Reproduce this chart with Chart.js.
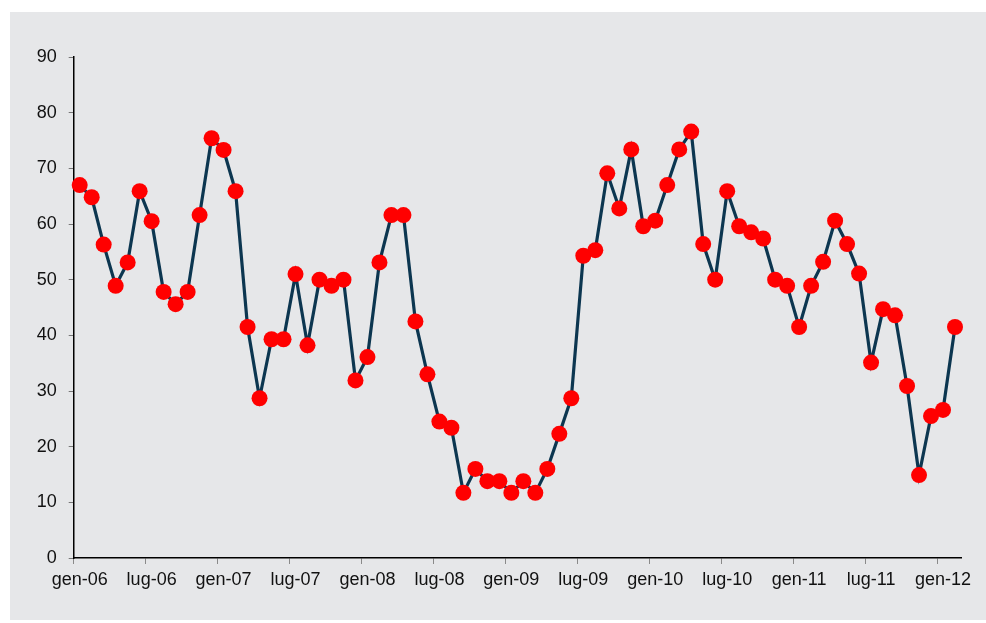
<!DOCTYPE html>
<html>
<head>
<meta charset="utf-8">
<script src="https://cdn.jsdelivr.net/npm/chart.js@4"></script>
<style>
  html, body { margin: 0; padding: 0; background: #ffffff; }
  #panel { position: absolute; left: 10px; top: 12px; width: 976px; height: 608px; background: #e6e7e9; }
  canvas { display: block; }
</style>
</head>
<body>
<div id="panel"><canvas id="chart" width="976" height="608"></canvas></div>
<script>
// mesi e anni per le etichette
const months = ['gen','feb','mar','apr','mag','giu','lug','ago','set','ott','nov','dic'];
const years = ['06','07','08','09','10','11','12'];

// valori mensili, gen-06 .. feb-12
const values = [
  67.0, 64.8, 56.3, 48.9, 53.1, 65.9, 60.5, 47.8, 45.6, 47.8, 61.6, 75.4,
  73.3, 65.9, 41.5, 28.7, 39.3, 39.3, 51.0, 38.2, 50.0, 48.9, 50.0, 31.9,
  36.1, 53.1, 61.6, 61.6, 42.5, 33.0, 24.5, 23.4, 11.7, 16.0, 13.8, 13.8,
  11.7, 13.8, 11.7, 16.0, 22.3, 28.7, 54.3, 55.3, 69.1, 62.8, 73.4, 59.6,
  60.6, 67.0, 73.4, 76.6, 56.4, 50.0, 65.9, 59.6, 58.5, 57.4, 50.0, 48.9,
  41.5, 48.9, 53.2, 60.6, 56.4, 51.1, 35.1, 44.7, 43.6, 30.9, 14.9, 25.5,
  26.6, 41.5
];

const yTicks = [0, 10, 20, 30, 40, 50, 60, 70, 80, 90];

const labels = [];
years.forEach(y => months.forEach(m => labels.push(m + '-' + y)));
labels.length = values.length;

const font = { family: '"Liberation Sans", Arial, sans-serif', size: 18 };

new Chart(document.getElementById('chart'), {
  type: 'line',
  data: {
    labels: labels,
    datasets: [{
      data: values,
      borderColor: '#0c3650',
      borderWidth: 3.2,
      pointBackgroundColor: '#ff0000',
      pointBorderWidth: 0,
      pointRadius: 8,
      pointHoverRadius: 8,
      tension: 0,
      clip: false
    }]
  },
  options: {
    responsive: false,
    animation: false,
    layout: { padding: { top: 45, right: 25, bottom: 22, left: 0 } },
    plugins: { legend: { display: false }, tooltip: { enabled: false } },
    scales: {
      x: {
        offset: true,
        grid: {
          offset: true,
          drawOnChartArea: false,
          tickLength: 6,
          color: ctx => (ctx.index % 6 === 0 ? '#8a8a8a' : 'rgba(0,0,0,0)')
        },
        border: { color: '#000000', width: 1.5 },
        ticks: {
          autoSkip: false,
          maxRotation: 0,
          padding: 5,
          color: '#111111',
          font: font,
          callback: (v, i) => (i % 6 === 0 ? labels[i] : '')
        },
        afterFit: s => { s.height = 40; }
      },
      y: {
        min: 0,
        max: 90,
        afterBuildTicks: s => { s.ticks = yTicks.map(v => ({ value: v })); },
        grid: { drawOnChartArea: false, tickLength: 5, color: '#777777' },
        border: { color: '#000000', width: 1.5 },
        ticks: { padding: 12, color: '#111111', font: font },
        afterFit: s => { s.width = 63.7; }
      }
    }
  }
});
</script>
</body>
</html>
